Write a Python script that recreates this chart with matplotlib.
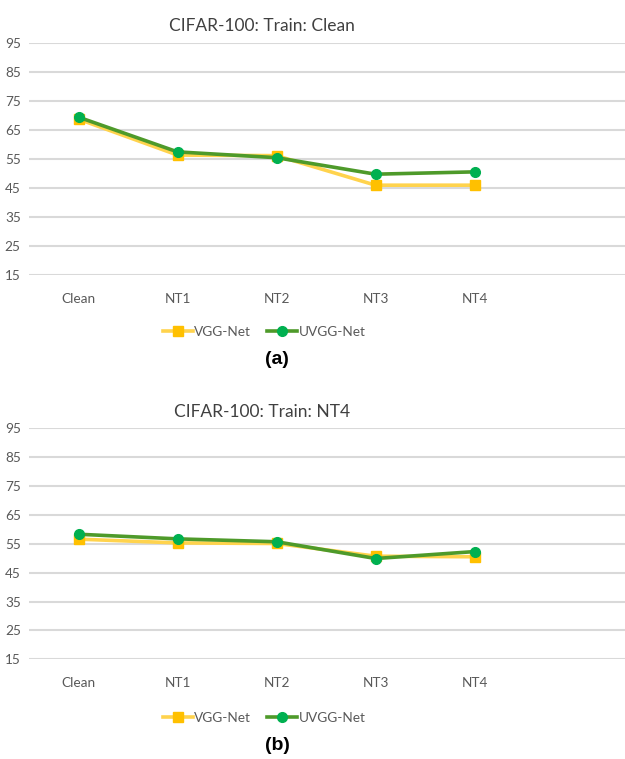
import numpy as np
import matplotlib.pyplot as plt

categories = ["Clean", "NT1", "NT2", "NT3", "NT4"]
yticks = [15, 25, 35, 45, 55, 65, 75, 85, 95]

# (a) trained on clean data
vgg_clean = [68.8, 56.4, 56.2, 46.0, 46.0]
uvgg_clean = [69.5, 57.5, 55.5, 49.8, 50.6]

# (b) trained on NT4
vgg_nt4 = [56.6, 55.3, 55.1, 50.7, 50.5]
uvgg_nt4 = [58.3, 56.7, 55.7, 49.9, 52.3]

plt.rcParams['font.family'] = ['Lato', 'DejaVu Sans']

fig = plt.figure(figsize=(6.25, 7.59), dpi=100)

yellow_line = '#FFD34D'
yellow_mark = '#FFC000'
green_line = '#4E9A2A'
green_mark = '#00B050'
grid_col = '#D9D9D9'
text_col = '#595959'


def draw_panel(rect, title, vgg, uvgg, title_y, legend_y, label, label_y):
    ax = fig.add_axes(rect)
    x = np.arange(len(categories))
    ax.plot(x, vgg, color=yellow_line, lw=2.6, marker='s', ms=7,
            mfc=yellow_mark, mec=yellow_mark, label='VGG-Net', zorder=3)
    ax.plot(x, uvgg, color=green_line, lw=2.6, marker='o', ms=7,
            mfc=green_mark, mec=green_mark, label='UVGG-Net', zorder=4)
    ax.set_ylim(15, 95)
    ax.set_xlim(-0.5, 5.52)
    ax.set_yticks(yticks)
    ax.set_xticks(x)
    ax.set_xticklabels(categories)
    ax.grid(axis='y', color=grid_col, lw=1.5)
    ax.set_axisbelow(True)
    for s in ax.spines.values():
        s.set_visible(False)
    ax.tick_params(length=0, labelsize=9.8, colors=text_col)
    ax.tick_params(axis='x', pad=13)
    ax.tick_params(axis='y', pad=6)
    fig.text(262 / 625, title_y, title, ha='center', va='center',
             fontsize=12.5, color='#404040')
    h, l = ax.get_legend_handles_labels()
    fig.legend(h, l, loc='center', bbox_to_anchor=(264 / 625, legend_y),
               ncol=2, frameon=False, fontsize=9.8, labelcolor=text_col,
               handlelength=2.2, handletextpad=0.1, columnspacing=1.2)
    fig.text(277 / 625, label_y, label, ha='center', va='center',
             fontsize=14, fontweight='bold', family='Liberation Sans')
    return ax


draw_panel([0.0464, 0.6377, 0.9536, 0.3053], "CIFAR-100: Train: Clean",
           vgg_clean, uvgg_clean, 1 - 26 / 759, 1 - 332 / 759, "(a)", 1 - 359 / 759)
draw_panel([0.0470, 0.1314, 0.9530, 0.3043], "CIFAR-100: Train: NT4",
           vgg_nt4, uvgg_nt4, 1 - 412 / 759, 1 - 718 / 759, "(b)", 1 - 746 / 759)

fig.savefig("out.png", dpi=100)
